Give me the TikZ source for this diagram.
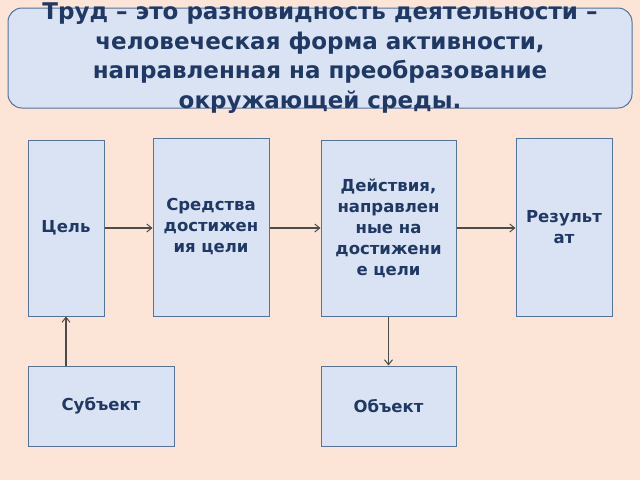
\documentclass[tikz,border=0pt]{standalone}
\usepackage{fontspec}
\setmainfont{DejaVu Sans}
\usetikzlibrary{arrows.meta}
\definecolor{bgpeach}{HTML}{FCE4D6}
\definecolor{boxfill}{HTML}{DAE3F3}
\definecolor{boxline}{HTML}{52749C}
\definecolor{txtblue}{HTML}{1F3864}
\begin{document}
\begin{tikzpicture}
        [
           x=1pt,y=-1pt,
           every node/.style={text=txtblue,font=\bfseries\fontsize{16.5}{21}\selectfont,align=center},
           stepbox/.style={draw=boxline,fill=boxfill,line width=1pt,inner sep=0pt},
           link/.style={draw=black!70,line width=1.5pt,-{Straight Barb[length=5pt,width=8pt,line width=1pt]}}
        ]
        \fill[bgpeach] (0,0) rectangle (640,480);
        \useasboundingbox (0,0) rectangle (640,480);
        % title
        \draw[stepbox,rounded corners=14pt] (8,8) rectangle (632,108);
        \node[font=\bfseries\fontsize{23}{29.5}\selectfont] (title) at (320,58) {Труд – это разновидность деятельности –\\человеческая форма активности,\\направленная на преобразование\\окружающей среды.};
        % boxes
        \node[stepbox,minimum width=76pt,minimum height=176pt] (goal) at (66,228) {Цель};
        \node[stepbox,minimum width=116pt,minimum height=178pt] (means) at (211,227) {Средства\\достижен\\ия цели};
        \node[stepbox,minimum width=135pt,minimum height=176pt] (acts) at (388.5,228) {Действия,\\направлен\\ные на\\достижени\\е цели};
        \node[stepbox,minimum width=96pt,minimum height=178pt] (result) at (564,227) {Результ\\ат};
        \node[stepbox,minimum width=146pt,minimum height=80pt] (subj) at (101,406) {Субъект};
        \node[stepbox,minimum width=135pt,minimum height=80pt] (obj) at (388.5,406) {Объект};
        % connectors
        \draw[link] (goal.east) -- (means.west |- goal.east);
        \draw[link] (means.east |- goal.east) -- (acts.west);
        \draw[link] (acts.east) -- (result.west |- acts.east);
        \draw[link] (subj.north -| goal) -- (goal.south);
        \draw[link] (acts.south) -- (obj.north);
    \end{tikzpicture}
\end{document}
